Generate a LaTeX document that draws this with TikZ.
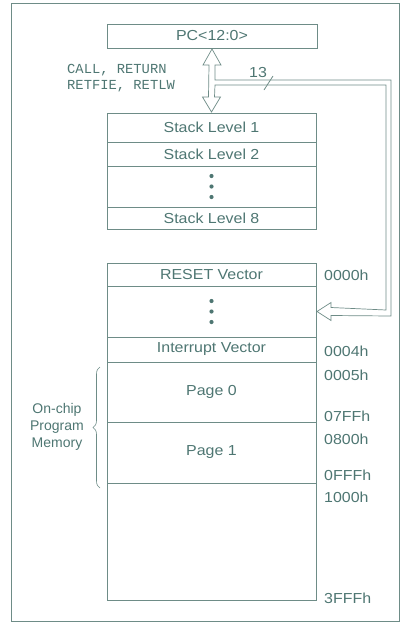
\documentclass[tikz,border=0pt]{standalone}
\usepackage{fontspec}
\setmainfont{Liberation Sans}
\setmonofont{Liberation Mono}
\newfontfamily\widesans[FakeStretch=1.1]{Liberation Sans}
\usetikzlibrary{calc,decorations.pathreplacing}
\definecolor{ink}{RGB}{78,118,114}
\definecolor{lin}{RGB}{110,140,135}
\begin{document}
\begin{tikzpicture}[x=1pt,y=-1pt,
  cell/.style={draw=lin, line width=0.7pt, minimum width=209pt, inner sep=0pt, outer sep=0pt,
    anchor=north west, font=\widesans\fontsize{14.5}{16}\selectfont, text=ink},
  addr/.style={anchor=west, inner sep=0pt, font=\widesans\fontsize{14.5}{16}\selectfont, text=ink},
  mono/.style={anchor=west, inner sep=0pt, font=\ttfamily\fontsize{13.8}{15}\selectfont, text=ink},
  pipe/.style={draw=lin, line width=0.7pt, line join=miter},
  dotfill/.style={fill=ink}]
\useasboundingbox (0,0) rectangle (407,624);
% outer frame
\draw[lin, line width=0.7pt] (11,3) rectangle (399,621);

% PC register
\node[cell, minimum width=210pt, minimum height=24pt] (pc) at (107,24) {PC<12:0>};

% stack
\node[cell, minimum height=29pt] (s1) at (107,113) {Stack Level 1};
\node[cell, minimum height=24pt] (s2) at (s1.south west) {Stack Level 2};
\node[cell, minimum height=41pt] (s3) at (s2.south west) {};
\node[cell, minimum height=22pt] (s8) at (s3.south west) {Stack Level 8};
\foreach \d in {-10.5,0,10.5} \fill[dotfill] ($(s3.center)+(0,\d)$) circle (2.1pt);

% memory
\node[cell, minimum height=23pt] (m1) at (107,263) {RESET Vector};
\node[cell, minimum height=51pt] (m2) at (m1.south west) {};
\node[cell, minimum height=25pt] (m3) at (m2.south west) {Interrupt Vector};
\node[cell, minimum height=60pt] (m4) at (m3.south west) {Page 0};
\node[cell, minimum height=61pt] (m5) at (m4.south west) {Page 1};
\node[cell, minimum height=117pt] (m6) at (m5.south west) {};
\foreach \d in {-10.5,0,10.5} \fill[dotfill] ($(m2.center)+(0,\d)$) circle (2.1pt);

% addresses
\node[addr] (a0) at (324,275) {0000h};
\node[addr] (a4) at (324,351) {0004h};
\node[addr] (a5) at (324,375) {0005h};
\node[addr] (a7) at (324,416) {07FFh};
\node[addr] (a8) at (324,439) {0800h};
\node[addr] (af) at (324,475) {0FFFh};
\node[addr] (a10) at (324,497) {1000h};
\node[addr] (a3f) at (324,598) {3FFFh};

% instruction labels
\node[mono] (call) at (67,70) {CALL, RETURN};
\node[mono] (retf) at (67,86) {RETFIE, RETLW};

% hollow arrows
\coordinate (T) at ($(pc.south)+(0,1)$);
\coordinate (B) at ($(s1.north)+(0,-1)$);
\coordinate (R) at ($(m2.east)+(1,0)$);
\draw[pipe]
  (T) -- ($(T)+(9,16)$) -- ($(T)+(3,16)$) -- ($(T)+(3,31)$) -- (391,80) -- (391,316)
  -- ($(R)+(14,4)$) -- ($(R)+(14,9)$) -- (R) -- ($(R)+(14,-9)$) -- ($(R)+(14,-4)$)
  -- (386,310) -- (386,85) -- ($(T)+(3,36)$) -- ($(B)+(3,-15)$) -- ($(B)+(9,-15)$)
  -- (B) -- ($(B)+(-9,-15)$) -- ($(B)+(-3,-15)$) -- ($(T)+(-3,16)$) -- ($(T)+(-9,16)$) -- cycle;

% bus width
\node[text=ink, font=\widesans\fontsize{14.5}{16}\selectfont, inner sep=0pt] (n13) at (258,73) {13};
\draw[lin, line width=0.8pt] (264,90) -- (273,76);

% brace
\draw[lin, line width=0.6pt, decorate, decoration={brace, amplitude=7pt}] (100,488) -- (100,367);
\node[text=ink, font=\fontsize{14}{17}\selectfont, align=center, inner sep=0pt] (ocpm) at (57,427) {On-chip\\Program\\Memory};
\end{tikzpicture}
\end{document}
